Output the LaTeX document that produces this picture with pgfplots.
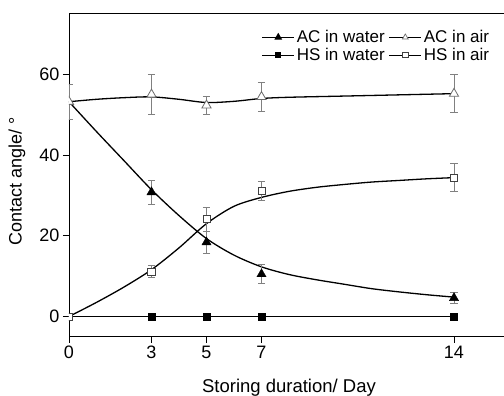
\documentclass[border=0pt]{standalone}
\usepackage{fontspec}
\setmainfont{Liberation Sans}
\usepackage{pgfplots}
\pgfplotsset{compat=1.18}
\usepackage{pgfplotstable}

\pgfplotstableread{
x y e
3 30.8 3.0
5 18.4 2.7
7 10.5 2.3
14 4.6 1.3
}\acwater
\pgfplotstableread{
x y e
0 53.2 4.4
3 55.0 5.0
5 52.3 2.3
7 54.4 3.6
14 55.2 4.7
}\acair
\pgfplotstableread{
x y
3 0
5 0
7 0
14 0
}\hswater
\pgfplotstableread{
x y e
0 0 0
3 11.1 1.5
5 24.1 3.0
7 31.1 2.4
14 34.4 3.4
}\hsair

\begin{document}
\begin{tikzpicture}[font=\fontsize{18bp}{21bp}\selectfont]
\path[use as bounding box] (-69bp,-59.3bp) rectangle (435bp,336.7bp);
\begin{axis}[
  at={(0,0)}, anchor=south west,
  scale only axis, width=440bp, height=323bp,
  xmin=0, xmax=16, ymin=-5, ymax=75,
  axis line style={line width=0.9bp},
  xtick={0,3,5,7,14}, ytick={0,20,40,60},
  tick align=outside, tick pos=left, major tick length=6bp,
  tick style={black, line width=0.9bp},
  tick label style={font=\fontsize{18bp}{21bp}\selectfont},
  label style={font=\fontsize{18bp}{21bp}\selectfont},
  /pgf/number format/assume math mode=true,
  clip marker paths=true,
  xlabel={Storing duration/ Day},
  ylabel={Contact angle/ °},
  xlabel style={at={(axis description cs:0.5,-0.172)}, anchor=base, font=\fontsize{18.5bp}{22bp}\selectfont},
  ylabel style={at={(axis description cs:-0.118,0.48)}, anchor=center, rotate=0},
  legend columns=2,
  legend cell align=left,
  legend image code/.code={\draw[mark repeat=2,mark phase=2,#1] plot coordinates {(0bp,0bp)(16bp,0bp)(32bp,0bp)};},
  legend style={draw=none, fill=none, font=\fontsize{17bp}{19bp}\selectfont,
    at={(axis description cs:0.962,0.958)}, anchor=north east,
    /tikz/every even column/.append style={column sep=2bp},
    inner sep=1bp},
  error bars/error bar style={gray, line width=0.8bp},
  error bars/error mark options={rotate=90, mark size=3.7bp, gray, line width=0.8bp},
]
% fitted curves
\addplot[black, line width=1.3bp, smooth, forget plot] coordinates {
(0,53.2) (1,45.8) (2,38.6) (3,31.4) (4,25.0) (5,19.3) (6,15.2) (7,12.3) (8,10.4) (9,9.1) (10,8.0) (11,6.9) (12,6.1) (13,5.4) (14,4.8)};
\addplot[black, line width=1.3bp, smooth, forget plot] coordinates {
(0,0) (1,3.5) (2,7.3) (3,11.6) (4,17.0) (5,23.0) (6,27.3) (7,29.5) (8,31.0) (9,32.0) (10,32.7) (11,33.3) (12,33.7) (13,34.1) (14,34.4)};
\addplot[black, line width=1.3bp, smooth, forget plot] coordinates {
(0,53.2) (1,53.8) (2,54.2) (3,54.4) (4,53.8) (5,53.0) (6,53.3) (7,54.0) (8,54.3) (10,54.6) (12,54.9) (14,55.2)};
\addplot[black, line width=1.3bp, forget plot] coordinates {(0,0) (14,0)};
% markers
\addplot[only marks, forget plot, mark=triangle*, mark size=5.3bp, mark options={fill=black, draw=black},
  error bars/.cd, y dir=both, y explicit] table[x=x, y=y, y error=e] {\acwater};
\addplot[only marks, forget plot, mark=triangle*, mark size=5.3bp, mark options={fill=white, draw=gray!85!black, line width=0.8bp},
  error bars/.cd, y dir=both, y explicit] table[x=x, y=y, y error=e] {\acair};
\addplot[only marks, forget plot, mark=square*, mark size=3.4bp, mark options={fill=black, draw=black}] table[x=x, y=y] {\hswater};
\addplot[only marks, forget plot, mark=square*, mark size=3.6bp, mark options={fill=white, draw=black!75, line width=0.8bp},
  error bars/.cd, y dir=both, y explicit] table[x=x, y=y, y error=e] {\hsair};
% legend
\addlegendimage{black, line width=1.2bp, mark=triangle*, mark options={fill=black, mark size=3.4bp}}
\addlegendentry{AC in water}
\addlegendimage{black, line width=1.2bp, mark=triangle*, mark options={fill=white, draw=gray!85!black, line width=0.7bp, mark size=3.4bp}}
\addlegendentry{AC in air}
\addlegendimage{black, line width=1.2bp, mark=square*, mark options={fill=black, mark size=2.6bp}}
\addlegendentry{HS in water}
\addlegendimage{black, line width=1.2bp, mark=square*, mark options={fill=white, draw=black!75, line width=0.7bp, mark size=2.6bp}}
\addlegendentry{HS in air}
\end{axis}
\end{tikzpicture}
\end{document}
